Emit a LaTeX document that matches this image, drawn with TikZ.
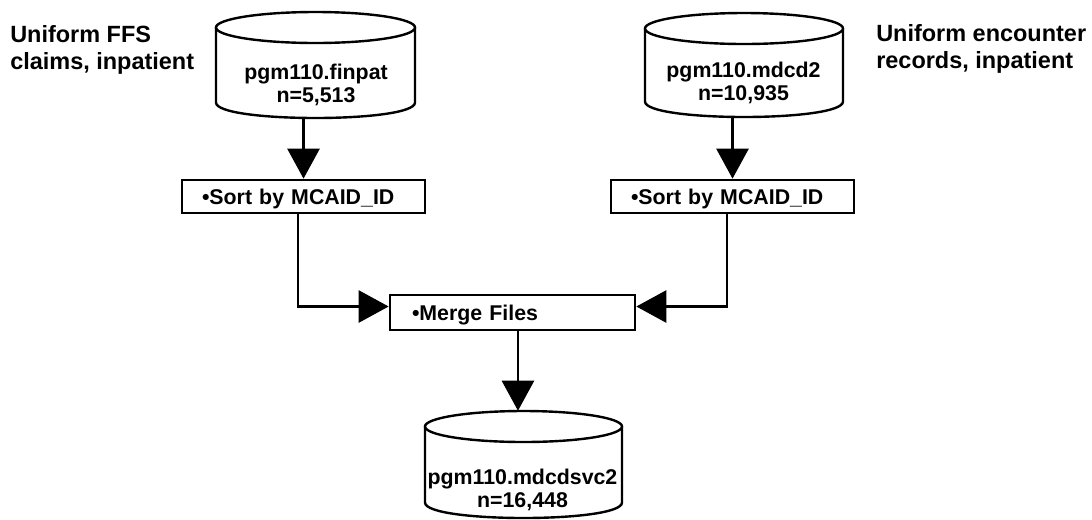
\documentclass[tikz,border=0pt]{standalone}
\usepackage{fontspec}
\setmainfont{Liberation Sans}
\usetikzlibrary{arrows.meta}

\newcommand\boxfont{\fontsize{16}{17.6}\selectfont\bfseries}
\newcommand\sidefont{\fontsize{17.6}{20.25}\selectfont\bfseries}
\newcommand\dbry{15.5}

% database drum: name, centre x, top y, bottom y, half width
\newcommand\dbdrum[5]{%
  \node[drumbox, minimum width={2*#5*0.75pt}, minimum height={(#4-#3)*0.75pt}]
    (#1) at (#2,{(#3+#4)/2}) {};
  \filldraw[drumline, fill=white] (#2-#5,#3+\dbry) -- (#2-#5,#4-\dbry)
    .. controls (#2-#5,{#4-\dbry+4/3*\dbry}) and (#2+#5,{#4-\dbry+4/3*\dbry}) ..
    (#2+#5,#4-\dbry) -- (#2+#5,#3+\dbry);
  \filldraw[drumline, fill=white] (#2,#3+\dbry) ellipse[x radius=#5, y radius=\dbry];
}

\tikzset{
  conn/.style={line width=2pt, -{Triangle[length=22.5pt,width=24pt]}},
  stepbox/.style={draw, line width=2pt, fill=white, inner ysep=0pt,
    align=left, text height=12.5pt, text depth=0pt, font=\boxfont},
  drumline/.style={line width=1.8pt},
  drumbox/.style={inner sep=0pt, draw=none},
  drumtext/.style={inner sep=0pt, anchor=base, font=\boxfont},
  sidelabel/.style={inner sep=0pt, anchor=base west, font=\sidefont},
}

\begin{document}
\begin{tikzpicture}[x=0.75pt, y=-0.75pt]
  \fill[white] (0,0) rectangle (1092,519);
  \useasboundingbox (0,0) rectangle (1092,519);

  % source tables
  \dbdrum{dbL}{315.5}{12}{118}{99.5}
  \dbdrum{dbR}{744}{13}{117}{99}
  \node[drumtext] (dbLtext) at (316,79)
    {\begin{tabular}[t]{@{}c@{}}pgm110.finpat\\n=5,513\end{tabular}};
  \node[drumtext] (dbRtext) at (743.5,77)
    {\begin{tabular}[t]{@{}c@{}}pgm110.mdcd2\\n=10,935\end{tabular}};

  % side captions
  \node[sidelabel] (capL) at (10,42)
    {\begin{tabular}[t]{@{}l@{}}Uniform FFS\\claims, inpatient\end{tabular}};
  \node[sidelabel] (capR) at (876,41)
    {\begin{tabular}[t]{@{}l@{}}Uniform encounter\\records, inpatient\end{tabular}};

  % processing steps
  \node[stepbox, minimum width=243*0.75pt, minimum height=33*0.75pt,
        text width=203*0.75pt, inner xsep=20*0.75pt] (sortL) at (303.5,196.5)
    {•Sort by MCAID\_ID};
  \node[stepbox, minimum width=243*0.75pt, minimum height=33*0.75pt,
        text width=203*0.75pt, inner xsep=20*0.75pt] (sortR) at (732.5,196.5)
    {•Sort by MCAID\_ID};
  \node[stepbox, minimum width=245*0.75pt, minimum height=35*0.75pt,
        text width=201*0.75pt, inner xsep=22*0.75pt] (merge) at (512.5,312.5)
    {•Merge Files};

  % result table
  \dbdrum{dbB}{523.5}{411}{518}{98.5}
  \node[drumtext] (dbBtext) at (522.5,484)
    {\begin{tabular}[t]{@{}c@{}}pgm110.mdcdsvc2\\n=16,448\end{tabular}};

  % flow
  \draw[conn] (sortL.north |- dbL.south) -- (sortL.north);
  \draw[conn] (sortR.north |- dbR.south) -- (sortR.north);
  \draw[conn] ([xshift=-4.1pt]sortL.south) |- ([yshift=4.5pt]merge.west);
  \draw[conn] ([xshift=-4.1pt]sortR.south) |- ([yshift=4.5pt]merge.east);
  \draw[conn] ([xshift=4.1pt]merge.south) -- ([xshift=4.1pt]merge.south |- dbB.north);
\end{tikzpicture}
\end{document}
